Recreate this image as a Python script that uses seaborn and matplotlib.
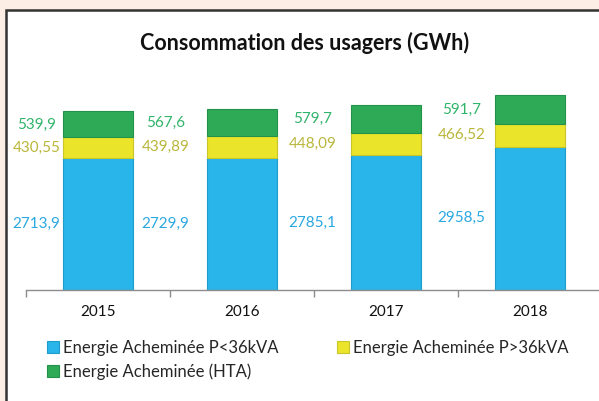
import matplotlib
matplotlib.use("Agg")
import matplotlib.pyplot as plt
from matplotlib.patches import Rectangle
from matplotlib.lines import Line2D
from matplotlib.transforms import offset_copy
import seaborn as sns
import numpy as np

# Consumption by customer category (GWh)
years = ["2015", "2016", "2017", "2018"]
low_voltage = [2713.9, 2729.9, 2785.1, 2958.5]      # P<36kVA
mid_power = [430.55, 439.89, 448.09, 466.52]        # P>36kVA
hta = [539.9, 567.6, 579.7, 591.7]                  # HTA
label_texts = {
    "low": ["2713,9", "2729,9", "2785,1", "2958,5"],
    "mid": ["430,55", "439,89", "448,09", "466,52"],
    "hta": ["539,9", "567,6", "579,7", "591,7"],
}
series_names = ["Energie Acheminée P<36kVA", "Energie Acheminée P>36kVA",
                "Energie Acheminée (HTA)"]
title = "Consommation des usagers (GWh)"

# horizontal shift (pixels) of each year's value labels from the bar's left edge
label_shift_px = [-27, -42, -39, -34]

sns.set_theme(style="white")
plt.rcParams["font.family"] = ["Lato", "DejaVu Sans"]

BLUE, YELLOW, GREEN = "#29B5E9", "#EAE52B", "#2EAA57"
BLUE_T, YELLOW_T, GREEN_T = "#2AA8E0", "#B9B63A", "#30B46A"

W, H = 599, 401
DPI = 100
fig = plt.figure(figsize=(W / DPI, H / DPI), dpi=DPI)
fig.patch.set_facecolor("#FCEEE4")

# white framed panel behind the chart
fig.patches.append(Rectangle((6 / W, -0.1), 1.2, (H - 10) / H + 0.1,
                             transform=fig.transFigure, facecolor="white",
                             edgecolor="#333333", linewidth=1.8, zorder=-5))

ax_left, ax_right = 26, 602
ax_bottom, ax_top = 290, 60
ax = fig.add_axes([ax_left / W, (H - ax_bottom) / H,
                   (ax_right - ax_left) / W, (ax_bottom - ax_top) / H])
ax.set_facecolor("none")

low = np.array(low_voltage)
mid = np.array(mid_power)
top = np.array(hta)

bw = 0.48
sns.barplot(x=years, y=low, color=BLUE, width=bw, ax=ax, saturation=1,
            edgecolor="#1E9CCB", linewidth=0.8)
sns.barplot(x=years, y=mid, bottom=low, color=YELLOW, width=bw, ax=ax,
            saturation=1, edgecolor="#C9C52A", linewidth=0.8)
sns.barplot(x=years, y=top, bottom=low + mid, color=GREEN, width=bw, ax=ax,
            saturation=1, edgecolor="#23934A", linewidth=0.8)

ax.set_xlim(-0.5, 3.5)
ax.set_ylim(0, 4742)
ax.set_yticks([])
ax.set_xlabel("")
ax.set_ylabel("")
for s in ["top", "right", "left"]:
    ax.spines[s].set_visible(False)
ax.spines["bottom"].set_color("#8C8C8C")
ax.spines["bottom"].set_linewidth(1.0)
ax.set_xticks(np.arange(len(years)))
ax.set_xticklabels(years, fontsize=11, color="#111111")
ax.set_xticks(np.arange(-0.5, len(years), 1.0), minor=True)
ax.tick_params(axis="x", which="major", length=0, pad=11)
ax.tick_params(axis="x", which="minor", length=5, color="#8C8C8C", width=1.0,
               bottom=True)

# value labels to the left of each segment
for i in range(len(years)):
    xl = i - bw / 2
    tr = offset_copy(ax.transData, fig=fig, x=label_shift_px[i] * 72 / DPI,
                     y=0, units="points")
    ax.text(xl, low[i] / 2, label_texts["low"][i], color=BLUE_T, fontsize=11,
            ha="center", va="center", transform=tr)
    ax.text(xl, low[i] + mid[i] / 2, label_texts["mid"][i], color=YELLOW_T,
            fontsize=11, ha="center", va="center", transform=tr)
    ax.text(xl, low[i] + mid[i] + top[i] / 2, label_texts["hta"][i],
            color=GREEN_T, fontsize=11, ha="center", va="center", transform=tr)

fig.text(305 / W, (H - 43) / H, title, fontsize=15.5, fontweight="bold",
         ha="center", va="center", color="#111111")

handles = [Line2D([], [], marker="s", linestyle="", markersize=8,
                  markerfacecolor=c, markeredgecolor=e, markeredgewidth=0.8)
           for c, e in [(BLUE, "#1E9CCB"), (GREEN, "#23934A"), (YELLOW, "#C9C52A")]]
labels = [series_names[0], series_names[2], series_names[1]]
fig.legend(handles, labels, ncol=2, loc="upper left",
           bbox_to_anchor=(40 / W, (H - 333) / H), frameon=False,
           fontsize=12, handlelength=0.8, handletextpad=0.2,
           columnspacing=3.45, labelspacing=0.45, borderaxespad=0)

fig.savefig("out.png", dpi=DPI)
